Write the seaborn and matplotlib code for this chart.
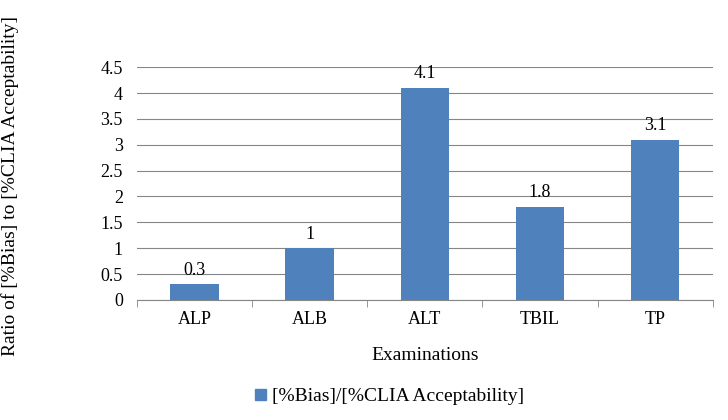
import matplotlib
matplotlib.use("Agg")
import matplotlib.pyplot as plt
import seaborn as sns
import pandas as pd
from matplotlib.patches import Patch

# chart data
examinations = ['ALP', 'ALB', 'ALT', 'TBIL', 'TP']
ratios = [0.3, 1, 4.1, 1.8, 3.1]
value_labels = ['0.3', '1', '4.1', '1.8', '3.1']
series_name = '[%Bias]/[%CLIA Acceptability]'

df = pd.DataFrame({'Examinations': examinations, 'Ratio': ratios})

plt.rcParams['font.family'] = 'Liberation Serif'
bar_color = '#4F81BD'

fig = plt.figure(figsize=(7.28, 4.2), dpi=100)
ax = fig.add_axes([0.188, 0.286, 0.791, 0.554])
sns.barplot(data=df, x='Examinations', y='Ratio', color=bar_color,
            width=0.42, saturation=1, ax=ax)

for p, lab in zip(ax.patches, value_labels):
    ax.annotate(lab, (p.get_x() + p.get_width() / 2, p.get_height()),
                xytext=(0, 4), textcoords='offset points',
                ha='center', va='bottom', fontsize=13)

ax.set_ylim(0, 4.5)
ax.set_yticks([0, 0.5, 1, 1.5, 2, 2.5, 3, 3.5, 4, 4.5])
ax.set_yticklabels(['0', '0.5', '1', '1.5', '2', '2.5', '3', '3.5', '4', '4.5'])
ax.yaxis.grid(True, color='#868686', linewidth=0.8)
ax.set_axisbelow(True)
for s in ['top', 'right', 'left']:
    ax.spines[s].set_visible(False)
ax.spines['bottom'].set_color('#868686')
ax.tick_params(axis='y', length=0, labelsize=13, pad=10)
ax.tick_params(axis='x', labelsize=13)
ax.set_xticks([i - 0.5 for i in range(6)], minor=True)
ax.tick_params(axis='x', which='major', length=0, pad=8)
ax.tick_params(axis='x', which='minor', length=5, color='#868686')
ax.set_xlabel('Examinations', fontsize=14, labelpad=14)
ax.set_ylabel('Ratio of [%Bias] to [%CLIA Acceptability]', fontsize=14)
ax.yaxis.set_label_coords(-0.205, 0.49)

fig.legend(handles=[Patch(color=bar_color, label=series_name)],
           loc='center', bbox_to_anchor=(0.535, 0.055), frameon=False,
           fontsize=14, handlelength=0.55, handleheight=0.55, handletextpad=0.3)

fig.savefig('out.png', dpi=100)
